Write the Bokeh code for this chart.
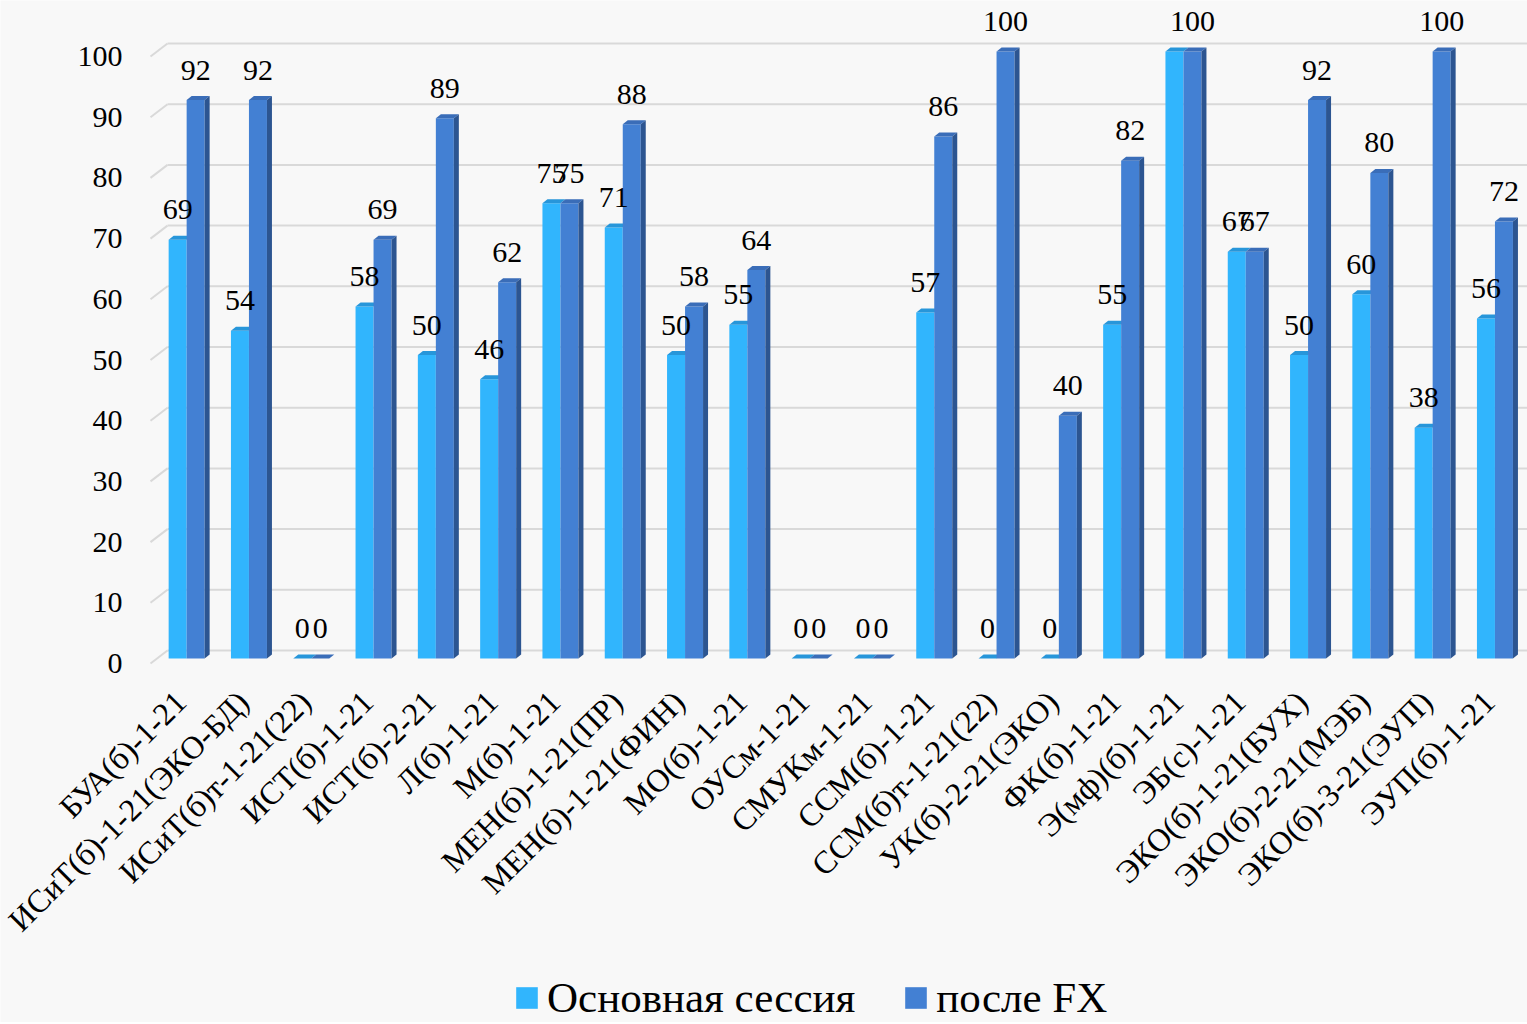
import math
import numpy as np
from bokeh.plotting import figure
from bokeh.models import Range1d, Legend, LegendItem
from bokeh.core.properties import value
from bokeh.embed import file_html
from bokeh.resources import INLINE

# ---------------- data ----------------
categories = [
    "БУА(б)-1-21", "ИСиТ(б)-1-21(ЭКО-БД)", "ИСиТ(б)т-1-21(22)", "ИСТ(б)-1-21",
    "ИСТ(б)-2-21", "Л(б)-1-21", "М(б)-1-21", "МЕН(б)-1-21(ПР)", "МЕН(б)-1-21(ФИН)",
    "МО(б)-1-21", "ОУСм-1-21", "СМУКм-1-21", "ССМ(б)-1-21", "ССМ(б)т-1-21(22)",
    "УК(б)-2-21(ЭКО)", "ФК(б)-1-21", "Э(мф)(б)-1-21", "ЭБ(с)-1-21",
    "ЭКО(б)-1-21(БУХ)", "ЭКО(б)-2-21(МЭБ)", "ЭКО(б)-3-21(ЭУП)", "ЭУП(б)-1-21",
]
main_session = [69, 54, 0, 58, 50, 46, 75, 71, 50, 55, 0, 0, 57, 0, 0, 55, 100, 67, 50, 60, 38, 56]
after_fx = [92, 92, 0, 69, 89, 62, 75, 88, 58, 64, 0, 0, 86, 100, 40, 82, 100, 67, 92, 80, 100, 72]
series_names = ["Основная сессия", "после FX"]
y_ticks = [0, 10, 20, 30, 40, 50, 60, 70, 80, 90, 100]
hidden_main_labels = ["Э(мф)(б)-1-21"]

# ---------------- style / geometry ----------------
FONT = "Liberation Serif"
LIGHT_FRONT, LIGHT_TOP = "#31B5FD", "#2796DA"
DARK_FRONT, DARK_TOP, DARK_SIDE = "#4380D3", "#3A6DB8", "#2C5591"
BG = "#F8F8F8"
GRID = "#D9D9D9"

W, H = 1527, 1022
PLOT_LEFT = 150        # screen column of the left edge of the front plane
ZERO_PX = 663          # screen row of value 0 on the front plane
SLOT = 62.3            # px per category
PXU = 6.07             # px per value unit
X0 = -0.5              # data x of the front-plane left edge
x_start = X0 - PLOT_LEFT / SLOT
x_end = X0 + (W - PLOT_LEFT) / SLOT
y_start = -(H - ZERO_PX) / PXU
y_end = y_start + H / PXU

BAR_OFF = (5, 5)       # bar plane offset (px right, px up) from the front plane
BACK_OFF = (17, 13)    # back wall offset
DEPTH = (5, 4)         # bar depth in px
BAR_W = 18 / SLOT

p = figure(width=W, height=H, output_backend="svg", toolbar_location=None,
           x_range=Range1d(x_start, x_end), y_range=Range1d(y_start, y_end),
           x_axis_location=None, y_axis_location=None,
           min_border_left=0, min_border_right=0, min_border_top=0, min_border_bottom=0)
p.extra_x_ranges = {
    "bar": Range1d(x_start - BAR_OFF[0] / SLOT, x_end - BAR_OFF[0] / SLOT),
    "back": Range1d(x_start - BACK_OFF[0] / SLOT, x_end - BACK_OFF[0] / SLOT),
}
p.extra_y_ranges = {
    "bar": Range1d(y_start - BAR_OFF[1] / PXU, y_end - BAR_OFF[1] / PXU),
    "back": Range1d(y_start - BACK_OFF[1] / PXU, y_end - BACK_OFF[1] / PXU),
}
p.background_fill_color = BG
p.border_fill_color = BG
p.outline_line_color = None
p.xgrid.visible = False
p.ygrid.visible = False

# ---------------- gridlines (back wall) ----------------
ticks = np.array(y_ticks, dtype=float)
n_t = len(ticks)
p.segment(x0=[X0] * n_t, y0=ticks, x1=[x_end] * n_t, y1=ticks,
          x_range_name="back", y_range_name="back", line_color=GRID, line_width=2)
p.segment(x0=[X0] * n_t, y0=ticks,
          x1=[X0 + BACK_OFF[0] / SLOT] * n_t, y1=ticks + BACK_OFF[1] / PXU,
          line_color=GRID, line_width=2)

# y tick labels
p.text(x=[X0] * n_t, y=y_ticks, text=[str(t) for t in y_ticks],
       x_offset=-28, text_align="right", text_baseline="middle",
       text_font=value(FONT), text_font_size="30px", text_color="black")

# ---------------- 3D bars ----------------
idx = np.arange(len(categories), dtype=float)
dx, dy = DEPTH[0] / SLOT, DEPTH[1] / PXU


def bar3d(x0, vals, front, top, side=None):
    vals = np.array(vals, dtype=float)
    x1 = x0 + BAR_W
    r = p.quad(left=x0, right=x1, bottom=0, top=vals, fill_color=front, line_color=None,
               x_range_name="bar", y_range_name="bar")
    top_xs = [[a, b, b + dx, a + dx] for a, b in zip(x0, x1)]
    top_ys = [[v, v, v + dy, v + dy] for v in vals]
    p.patches(xs=top_xs, ys=top_ys, fill_color=top, line_color=None,
              x_range_name="bar", y_range_name="bar")
    if side is not None:
        side_xs = [[b, b + dx, b + dx, b] for b in x1]
        side_ys = [[0, dy, v + dy, v] for v in vals]
        p.patches(xs=side_xs, ys=side_ys, fill_color=side, line_color=None,
                  x_range_name="bar", y_range_name="bar")
    return r


r_light = bar3d(idx - BAR_W, main_session, LIGHT_FRONT, LIGHT_TOP)
r_dark = bar3d(idx, after_fx, DARK_FRONT, DARK_TOP, DARK_SIDE)

# ---------------- data labels ----------------
lab_x, lab_y, lab_t = [], [], []
for i, c in enumerate(categories):
    if c not in hidden_main_labels:
        lab_x.append(i - BAR_W / 2)
        lab_y.append(main_session[i])
        lab_t.append(str(main_session[i]))
    lab_x.append(i + BAR_W / 2)
    lab_y.append(after_fx[i])
    lab_t.append(str(after_fx[i]))
p.text(x=lab_x, y=lab_y, text=lab_t, x_range_name="bar", y_range_name="bar",
       text_font=value(FONT), text_font_size="30px", text_color="black",
       text_align="center", text_baseline="alphabetic", y_offset=-30)

# ---------------- category labels (rotated, under the floor) ----------------
p.text(x=list(range(len(categories))), y=[0] * len(categories), text=categories,
       angle=math.pi / 4, text_align="right", text_baseline="middle",
       x_offset=-1, y_offset=33,
       text_font=value(FONT), text_font_size="32px", text_color="black")

# ---------------- legend ----------------
legend = Legend(items=[LegendItem(label=series_names[0], renderers=[r_light]),
                       LegendItem(label=series_names[1], renderers=[r_dark])],
                location=(513, 0), orientation="horizontal",
                glyph_width=27, glyph_height=27, label_standoff=7, spacing=47,
                padding=0, margin=0, border_line_color=None, background_fill_alpha=0,
                label_text_font=FONT, label_text_font_size="43px", label_text_color="black")
p.add_layout(legend)

open("out.html", "w").write(file_html(p, INLINE))
